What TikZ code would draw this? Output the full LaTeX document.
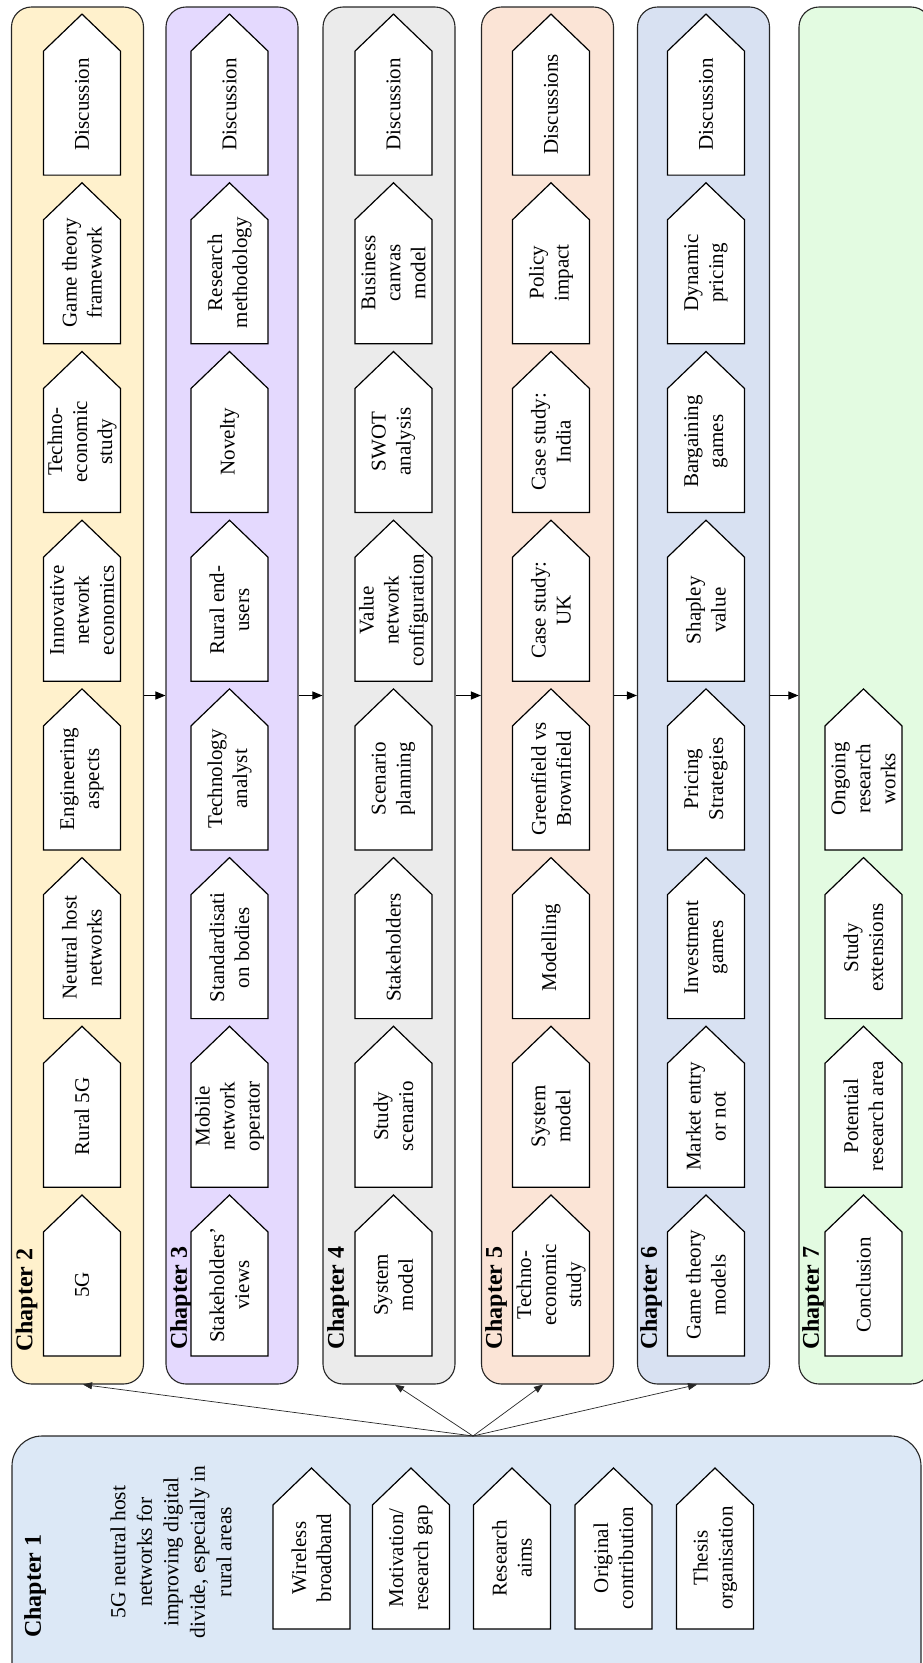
\documentclass[tikz,border=0pt]{standalone}
\usepackage{fontspec}
\setmainfont{Liberation Serif}
\usetikzlibrary{arrows.meta}
\definecolor{cOne}{HTML}{DCE8F6}
\definecolor{cTwo}{HTML}{FFF1CC}
\definecolor{cThree}{HTML}{E4D9FE}
\definecolor{cFour}{HTML}{EBEBEB}
\definecolor{cFive}{HTML}{FBE4D6}
\definecolor{cSix}{HTML}{D8E1F2}
\definecolor{cSeven}{HTML}{E3FBE1}
\tikzset{
  chapbox/.style={draw=black!85, line width=1.1pt, rounded corners=20pt, minimum width=132pt, minimum height=1377pt, inner sep=0pt},
  chaplabel/.style={rotate=90, anchor=west, inner sep=0pt, font=\fontsize{24}{28}\selectfont\bfseries},
  pentshape/.style={draw=black, fill=white, line width=1.2pt, line join=miter},
  penttext/.style={rotate=90, align=center, inner sep=0pt, font=\fontsize{21}{25}\selectfont},
  introtext/.style={rotate=90, align=center, inner sep=0pt, font=\fontsize{21.5}{26.5}\selectfont},
  link/.style={-{Triangle[length=9pt,width=7pt]}, line width=0.7pt, draw=black!85},
  hlink/.style={-{Triangle[length=10pt,width=8pt]}, line width=1pt, draw=black},
}
\newcommand\pent[4]{%
  \draw[pentshape] ({#2-38.5},{#3+161}) -- ({#2+38.5},{#3+161}) -- ({#2+38.5},{#3+37}) -- (#2,#3) -- ({#2-38.5},{#3+37}) -- cycle;
  \node[penttext] (#1) at (#2,{#3+90}) {#4};
}
\begin{document}
\begin{tikzpicture}[x=1pt,y=-1pt]
\useasboundingbox (0,0) rectangle (923,1663);
\clip (0,0) rectangle (923,1663);

% containers
\node[chapbox, fill=cTwo]   (ch2) at (77.5,695.5) {};
\node[chapbox, fill=cThree] (ch3) at (232,695.5) {};
\node[chapbox, fill=cFour]  (ch4) at (389,695.5) {};
\node[chapbox, fill=cFive]  (ch5) at (547.5,695.5) {};
\node[chapbox, fill=cSix]   (ch6) at (703.5,695.5) {};
\node[chapbox, fill=cSeven] (ch7) at (865,695.5) {};
\node[chapbox, fill=cOne, rounded corners=30pt, minimum width=909pt, minimum height=300pt] (ch1) at (466.5,1586) {};

% chapter labels
\node[chaplabel] (l1) at (35,1638) {Chapter 1};
\node[chaplabel] (l2) at (26.5,1352) {Chapter 2};
\node[chaplabel] (l3) at (181,1350) {Chapter 3};
\node[chaplabel] (l4) at (338,1350) {Chapter 4};
\node[chaplabel] (l5) at (496,1350) {Chapter 5};
\node[chaplabel] (l6) at (651,1350) {Chapter 6};
\node[chaplabel] (l7) at (813,1350) {Chapter 7};

% chapter 1 content
\node[introtext] (intro) at (171,1552) {5G neutral host\\networks for\\improving digital\\divide, especially in\\rural areas};
\pent{c1-0}{311.5}{1468}{Wireless\\broadband}
\pent{c1-1}{411}{1468}{Motivation/\\research gap}
\pent{c1-2}{512}{1468}{Research\\aims}
\pent{c1-3}{613.5}{1468}{Original\\contribution}
\pent{c1-4}{715}{1468}{Thesis\\organisation}

% chapter 2
\foreach \t [count=\i from 0] in {5G, Rural 5G, {Neutral host\\networks}, {Engineering\\aspects}, {Innovative\\network\\economics}, {Techno-\\economic\\study}, {Game theory\\framework}, Discussion} {
  \pgfmathsetmacro\ay{1195-168.7*\i}
  \pent{c2-\i}{82}{\ay}{\t}
}
% chapter 3
\foreach \t [count=\i from 0] in {{Stakeholders’\\views}, {Mobile\\network\\operator}, {Standardisati\\on bodies}, {Technology\\analyst}, {Rural end-\\users}, Novelty, {Research\\methodology}, Discussion} {
  \pgfmathsetmacro\ay{1195-168.7*\i}
  \pent{c3-\i}{229.5}{\ay}{\t}
}
% chapter 4
\foreach \t [count=\i from 0] in {{System\\model}, {Study\\scenario}, Stakeholders, {Scenario\\planning}, {Value\\network\\configuration}, {SWOT\\analysis}, {Business\\canvas\\model}, Discussion} {
  \pgfmathsetmacro\ay{1195-168.7*\i}
  \pent{c4-\i}{393.5}{\ay}{\t}
}
% chapter 5
\foreach \t [count=\i from 0] in {{Techno-\\economic\\study}, {System\\model}, Modelling, {Greenfield vs\\Brownfield}, {Case study:\\UK}, {Case study:\\India}, {Policy\\impact}, Discussions} {
  \pgfmathsetmacro\ay{1195-168.7*\i}
  \pent{c5-\i}{551}{\ay}{\t}
}
% chapter 6
\foreach \t [count=\i from 0] in {{Game theory\\models}, {Market entry\\or not}, {Investment\\games}, {Pricing\\Strategies}, {Shapley\\value}, {Bargaining\\games}, {Dynamic\\pricing}, Discussion} {
  \pgfmathsetmacro\ay{1195-168.7*\i}
  \pent{c6-\i}{706}{\ay}{\t}
}
% chapter 7
\foreach \t [count=\i from 0] in {Conclusion, {Potential\\research area}, {Study\\extensions}, {Ongoing\\research\\works}} {
  \pgfmathsetmacro\ay{1195-168.7*\i}
  \pent{c7-\i}{863.5}{\ay}{\t}
}

% connectors
\coordinate (hub) at (473,1436);
\draw[link] (hub) -- ([xshift=5.5pt]ch2.south);
\draw[link] (hub) -- ([xshift=6pt]ch4.south);
\draw[link] (hub) -- ([xshift=-4.5pt]ch5.south);
\draw[link] (hub) -- ([xshift=-6.5pt]ch6.south);

\draw[hlink] (ch2) -- (ch3);
\draw[hlink] (ch3) -- (ch4);
\draw[hlink] (ch4) -- (ch5);
\draw[hlink] (ch5) -- (ch6);
\draw[hlink] (ch6) -- (ch7);
\end{tikzpicture}
\end{document}
